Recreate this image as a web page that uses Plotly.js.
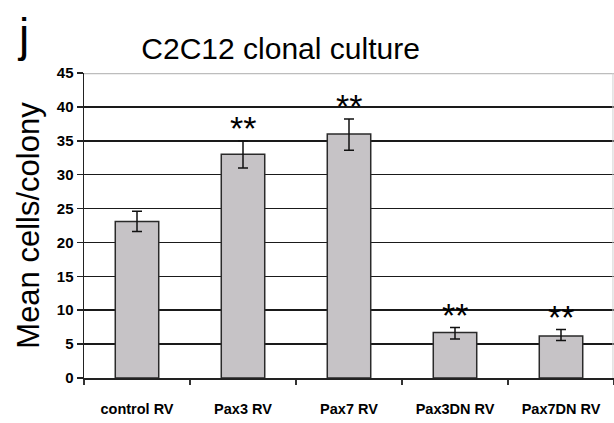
<!DOCTYPE html>
<html><head><meta charset="utf-8">
<script src="https://cdn.plot.ly/plotly-3.0.1.min.js"></script>
<style>html,body{margin:0;padding:0;background:#fff}#chart{width:614px;height:423px}</style>
</head><body><div id="chart"></div>
<script>
const categories = ["control RV", "Pax3 RV", "Pax7 RV", "Pax3DN RV", "Pax7DN RV"];
const meanCells = [23.1, 33.0, 36.0, 6.7, 6.2];
const errPlus = [1.5, 2.0, 2.2, 0.75, 0.95];
const errMinus = [1.5, 2.0, 2.4, 0.95, 0.65];
const significance = ["", "**", "**", "**", "**"];
const yTicks = [0, 5, 10, 15, 20, 25, 30, 35, 40, 45];

const trace = {
  type: "bar", x: categories, y: meanCells, width: 0.41,
  marker: {color: "#c6c3c6", line: {color: "#2a2a2a", width: 1.5}},
  error_y: {type: "data", symmetric: false, array: errPlus, arrayminus: errMinus,
            color: "#111", thickness: 1.5, width: 5},
  hoverinfo: "none"
};

const annotations = [
  {xref: "paper", yref: "paper", x: -0.13, y: 1.215, text: "j", showarrow: false,
   xanchor: "left", yanchor: "top", font: {family: "Liberation Sans, Arial", size: 46, color: "#000"}}
];
categories.forEach((c, i) => {
  if (significance[i]) annotations.push({
    x: c, y: meanCells[i] + errPlus[i], text: significance[i], showarrow: false,
    yanchor: "bottom", yshift: -8, font: {family: "Liberation Sans, Arial", size: 34, color: "#000"}
  });
});

const layout = {
  width: 614, height: 423,
  margin: {l: 84, r: 0, t: 73, b: 45},
  paper_bgcolor: "#fff", plot_bgcolor: "#fff",
  showlegend: false, bargap: 0.59,
  title: {text: "C2C12 clonal culture", x: 0.457, xanchor: "center", y: 0.885, yanchor: "middle",
          font: {family: "Liberation Sans, Arial", size: 30, color: "#000"}},
  xaxis: {
    type: "category", tickson: "boundaries", ticks: "outside", ticklen: 5, tickwidth: 1.5,
    tickcolor: "#333", showline: true, linecolor: "#222", linewidth: 1.5, showgrid: false,
    ticklabelstandoff: 17,
    tickfont: {family: "Liberation Sans, Arial", size: 14.5, color: "#000", weight: "bold"}
  },
  yaxis: {
    range: [0, 45], tickvals: yTicks, ticktext: yTicks.map(String),
    ticks: "outside", ticklen: 6, tickwidth: 1.5, tickcolor: "#222",
    showline: true, linecolor: "#222", linewidth: 1.5,
    showgrid: true, gridcolor: "#1a1a1a", gridwidth: 1.5, zeroline: false,
    tickfont: {family: "Liberation Sans, Arial", size: 15, color: "#000", weight: "bold"},
    title: {text: "Mean cells/colony", standoff: 8,
            font: {family: "Liberation Sans, Arial", size: 31, color: "#000"}}
  },
  shapes: [
    {type: "line", xref: "paper", yref: "y", x0: 0, x1: 1, y0: 45, y1: 45,
     line: {color: "#bdbdbd", width: 2.5}},
    {type: "line", xref: "paper", yref: "paper", x0: 0.998, x1: 0.998, y0: 0, y1: 1,
     line: {color: "#cfcfcf", width: 1}}
  ],
  annotations: annotations
};

Plotly.newPlot("chart", [trace], layout, {staticPlot: true});
</script></body></html>
